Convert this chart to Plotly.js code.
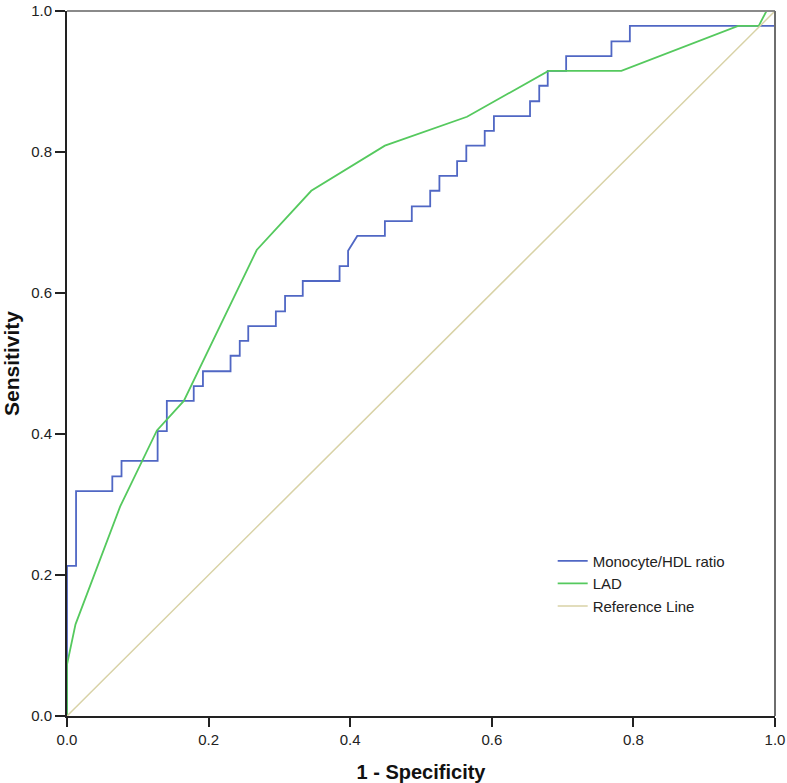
<!DOCTYPE html>
<html>
<head>
<meta charset="utf-8">
<script src="https://cdn.plot.ly/plotly-3.0.1.min.js"></script>
<style>
html,body{margin:0;padding:0;background:#fff;}
#chart{width:787px;height:783px;}
</style>
</head>
<body>
<div id="chart"></div>
<script>
// Monocyte/HDL ratio ROC curve (1 - specificity, sensitivity)
var mhrX = [0, 0, 0.0128, 0.0128, 0.064, 0.064, 0.077, 0.077, 0.128, 0.128, 0.141, 0.141,
  0.179, 0.179, 0.192, 0.192, 0.231, 0.231, 0.244, 0.244, 0.256, 0.256, 0.295, 0.295,
  0.308, 0.308, 0.333, 0.333, 0.385, 0.385, 0.397, 0.397, 0.410, 0.449, 0.449, 0.487,
  0.487, 0.513, 0.513, 0.526, 0.526, 0.551, 0.551, 0.564, 0.564, 0.590, 0.590, 0.603,
  0.603, 0.654, 0.654, 0.667, 0.667, 0.679, 0.679, 0.705, 0.705, 0.769, 0.769, 0.795,
  0.795, 1.0, 1.0];
var mhrY = [0, 0.213, 0.213, 0.319, 0.319, 0.340, 0.340, 0.362, 0.362, 0.404, 0.404, 0.447,
  0.447, 0.468, 0.468, 0.489, 0.489, 0.511, 0.511, 0.532, 0.532, 0.553, 0.553, 0.574,
  0.574, 0.596, 0.596, 0.617, 0.617, 0.638, 0.638, 0.660, 0.681, 0.681, 0.702, 0.702,
  0.723, 0.723, 0.745, 0.745, 0.766, 0.766, 0.787, 0.787, 0.809, 0.809, 0.830, 0.830,
  0.851, 0.851, 0.872, 0.872, 0.894, 0.894, 0.915, 0.915, 0.936, 0.936, 0.957, 0.957,
  0.979, 0.979, 1.0];
// LAD ROC curve
var ladX = [0, 0, 0.012, 0.075, 0.127, 0.165, 0.268, 0.345, 0.449, 0.565, 0.680, 0.783, 0.948, 0.977, 0.988, 1.0];
var ladY = [0, 0.073, 0.130, 0.297, 0.405, 0.447, 0.661, 0.745, 0.809, 0.850, 0.915, 0.915, 0.979, 0.979, 1.0, 1.0];
// Reference line
var refX = [0, 1];
var refY = [0, 1];

var seriesNames = ["Monocyte/HDL ratio", "LAD", "Reference Line"];
var tickVals = [0, 0.2, 0.4, 0.6, 0.8, 1.0];
var tickText = ["0.0", "0.2", "0.4", "0.6", "0.8", "1.0"];

var FONT = "Liberation Sans, Arial, sans-serif";

var traces = [
  {x: mhrX, y: mhrY, name: seriesNames[0], mode: "lines", type: "scatter",
   line: {color: "#5067c4", width: 1.8}},
  {x: ladX, y: ladY, name: seriesNames[1], mode: "lines", type: "scatter",
   line: {color: "#55c95e", width: 1.8}},
  {x: refX, y: refY, name: seriesNames[2], mode: "lines", type: "scatter",
   line: {color: "#d8d2a6", width: 1.5}}
];
var layout = {
  width: 787, height: 783,
  margin: {l: 67, r: 12, t: 11, b: 67},
  paper_bgcolor: "#ffffff", plot_bgcolor: "#ffffff",
  font: {family: FONT, size: 15, color: "#222"},
  showlegend: true,
  legend: {x: 0.686, y: 0.243, xanchor: "left", yanchor: "top",
           bgcolor: "rgba(0,0,0,0)", font: {family: FONT, size: 15, color: "#222"},
           tracegroupgap: 0, itemwidth: 30},
  xaxis: {range: [0, 1], tickvals: tickVals, ticktext: tickText, showgrid: false, zeroline: false,
          showline: true, linecolor: "#222", linewidth: 2, ticks: "outside", ticklen: 9,
          tickwidth: 2, tickcolor: "#222", tickfont: {family: FONT, size: 15, color: "#222"},
          ticklabeloverflow: "allow", layer: "above traces",
          title: {text: "<b>1 - Specificity</b>", font: {family: FONT, size: 20, color: "#111"}, standoff: 19},
          fixedrange: true},
  yaxis: {range: [0, 1], tickvals: tickVals, ticktext: tickText, showgrid: false, zeroline: false,
          showline: true, linecolor: "#222", linewidth: 2, ticks: "outside", ticklen: 10,
          tickwidth: 2, tickcolor: "#222", tickfont: {family: FONT, size: 15, color: "#222"},
          ticklabeloverflow: "allow", layer: "above traces",
          title: {text: "<b>Sensitivity</b>", font: {family: FONT, size: 21, color: "#111"}, standoff: 14},
          fixedrange: true},
  shapes: [
    {type: "line", xref: "paper", yref: "paper", x0: 0, x1: 1, y0: 1, y1: 1,
     line: {color: "#8a8a8a", width: 2}},
    {type: "line", xref: "paper", yref: "paper", x0: 1, x1: 1, y0: 0, y1: 1,
     line: {color: "#6e6e6e", width: 2}}
  ]
};
Plotly.newPlot("chart", traces, layout, {displayModeBar: false, staticPlot: true});
</script>
</body>
</html>
